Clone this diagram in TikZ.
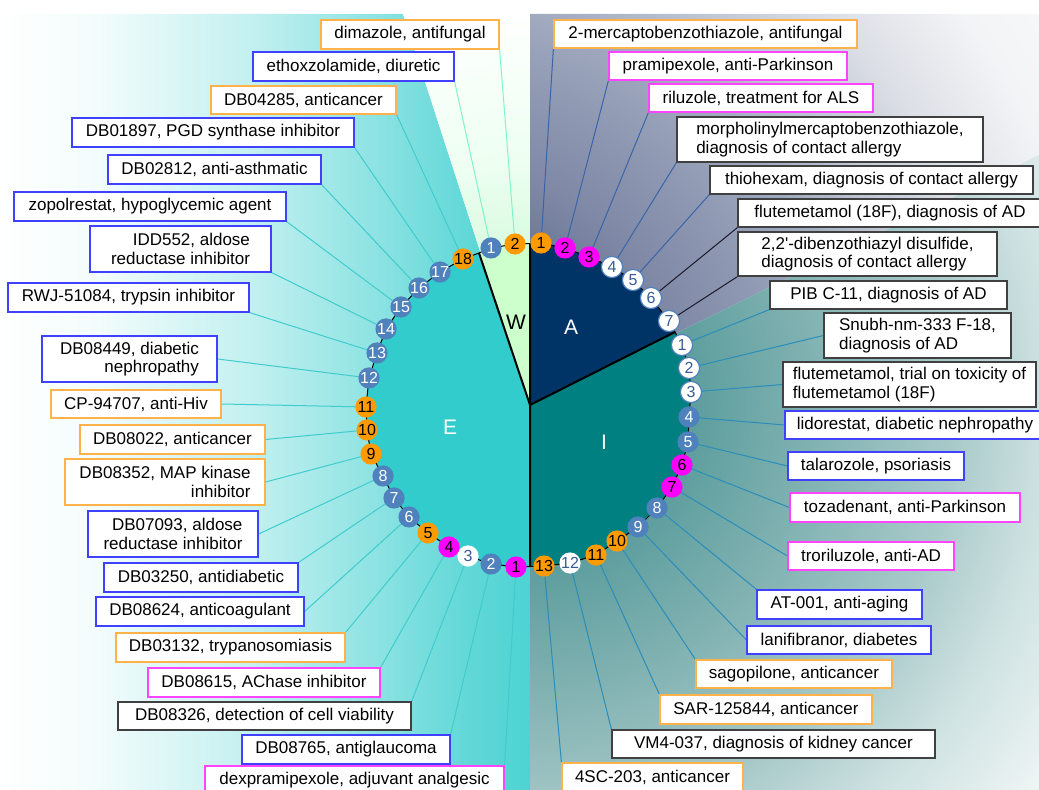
\documentclass[tikz,border=0pt]{standalone}
\usepackage{fontspec}
\setmainfont{Liberation Sans}
\pgfdeclarelayer{back}
\pgfdeclarelayer{mid}
\pgfsetlayers{back,mid,main}
\definecolor{eturq}{HTML}{33CCCC}
\definecolor{esec}{HTML}{33CCCC}
\definecolor{wsec}{HTML}{CCFFCC}
\definecolor{asec}{HTML}{003366}
\definecolor{isec}{HTML}{008080}
\definecolor{cblue}{HTML}{4F81BD}
\definecolor{corange}{HTML}{FF9A00}
\definecolor{cmag}{HTML}{FF00FF}
\definecolor{bor}{HTML}{FFB24A}
\definecolor{bbl}{HTML}{4040FF}
\definecolor{bmg}{HTML}{FF44FF}
\definecolor{bbk}{HTML}{404040}
\definecolor{lE}{HTML}{40CCCC}
\definecolor{lW}{HTML}{80F5C8}
\definecolor{lA}{HTML}{3A64A8}
\definecolor{lAk}{HTML}{1A1A2A}
\definecolor{lI}{HTML}{2A8DBA}
\definecolor{wtxt}{HTML}{3A5C95}
% background shadings
\colorlet{e0}{white}
\colorlet{e1}{eturq!6!white}
\colorlet{e2}{eturq!30!white}
\colorlet{e3}{eturq!57!white}
\colorlet{e4}{eturq!77!white}
\colorlet{e5}{eturq!87!white}
\pgfdeclarehorizontalshading{eshade}{100bp}{color(0bp)=(e0); color(25bp)=(e0); color(34bp)=(e1); color(49bp)=(e2); color(61bp)=(e3); color(69bp)=(e4); color(75bp)=(e5); color(100bp)=(e5)}
\definecolor{a0}{HTML}{4A5880}
\definecolor{a1}{HTML}{5E6A8E}
\definecolor{a2}{HTML}{7F89A6}
\definecolor{a3}{HTML}{8E98B2}
\definecolor{a4}{HTML}{A0A9BE}
\definecolor{a5}{HTML}{C0C6D3}
\definecolor{a6}{HTML}{DCDFE6}
\definecolor{a7}{HTML}{F3F4F6}
\definecolor{a8}{HTML}{F8F8FA}
\pgfdeclareradialshading{ashade}{\pgfpointorigin}{color(0bp)=(a0); color(5bp)=(a1); color(8.67bp)=(a2); color(11.33bp)=(a3); color(13.83bp)=(a4); color(16.33bp)=(a5); color(19bp)=(a6); color(22.33bp)=(a7); color(25bp)=(a8); color(50bp)=(a8)}
\definecolor{i0}{HTML}{3A8888}
\definecolor{i1}{HTML}{5A9C9C}
\definecolor{i2}{HTML}{85B4B4}
\definecolor{i3}{HTML}{A8C9C9}
\definecolor{i4}{HTML}{CFE2E2}
\definecolor{i5}{HTML}{F2F7F7}
\pgfdeclareradialshading{ishade}{\pgfpointorigin}{color(0bp)=(i0); color(5.8bp)=(i1); color(11.5bp)=(i2); color(16.2bp)=(i3); color(20bp)=(i4); color(25bp)=(i5); color(50bp)=(i5)}
\definecolor{w0}{HTML}{C0F5CC}
\definecolor{w1}{HTML}{D8FADF}
\definecolor{w2}{HTML}{EEFFF2}
\pgfdeclareradialshading{wshade}{\pgfpointorigin}{color(0bp)=(w0); color(5.8bp)=(w1); color(9.6bp)=(w2); color(15.4bp)=(white); color(50bp)=(white)}
\newcommand\labbox[8]{%
  \pgfmathsetmacro\lbX{(#2+#4)/2}%
  \pgfmathsetmacro\lbY{(#3+#5)/2}%
  \pgfmathsetmacro\lbW{(#4-#2)*0.5}%
  \pgfmathsetmacro\lbH{(#5-#3)*0.5}%
  \node[lbox,draw=#6,align=#7,minimum width=\lbW pt,minimum height=\lbH pt] (#1) at (\lbX,\lbY) {#8};}
\begin{document}
\begin{tikzpicture}[x=0.5pt,y=-0.5pt,
  circN/.style={circle,minimum size=10.6pt,inner sep=0pt,font=\fontsize{8}{8}\selectfont},
  circB/.style={circN,fill=cblue,text=white},
  circO/.style={circN,fill=corange,text=black},
  circM/.style={circN,fill=cmag,text=black},
  circW/.style={circN,fill=white,draw=cblue,line width=0.6pt,text=wtxt},
  circWn/.style={circN,fill=white,text=wtxt},
  lbox/.style={draw,fill=white,line width=0.6pt,inner xsep=2pt,inner ysep=1pt,font=\fontsize{8.5}{9.3}\selectfont},
  seclbl/.style={font=\fontsize{10.5}{10.5}\selectfont},
  lnE/.style={draw=lE,line width=0.5pt},
  lnW/.style={draw=lW,line width=0.5pt},
  lnA/.style={draw=lA,line width=0.5pt},
  lnAk/.style={draw=lAk,line width=0.5pt},
  lnI/.style={draw=lI,line width=0.5pt}]
\useasboundingbox (0,0) rectangle (1039,790);
\coordinate (C) at (530,405);
\coordinate (PA) at (430,420);
\coordinate (TE) at (403,14);
\coordinate (TW) at (530,14);
\coordinate (TR) at (1039,14);
\coordinate (RA) at (1039,155);
\coordinate (BR) at (1039,790);
\coordinate (BM) at (530,790);
\coordinate (BL) at (0,790);
\coordinate (TL) at (0,14);
\coordinate (EW) at (479,253);
\coordinate (WA) at (530,243.5);
\coordinate (AI) at (675,332);
\coordinate (IE) at (530,566.5);

% circles
\node[circB] (W1) at (491,248) {1};
\node[circO] (W2) at (515,244) {2};
\node[circO] (A1) at (541,243) {1};
\node[circM] (A2) at (565,248) {2};
\node[circM] (A3) at (589,257) {3};
\node[circW] (A4) at (612,267) {4};
\node[circW] (A5) at (633,280) {5};
\node[circW] (A6) at (651,298) {6};
\node[circW] (A7) at (669,321) {7};
\node[circW] (I1) at (682,345) {1};
\node[circW] (I2) at (689,368) {2};
\node[circW] (I3) at (691,392) {3};
\node[circB] (I4) at (689,417) {4};
\node[circB] (I5) at (688,442) {5};
\node[circM] (I6) at (682,465) {6};
\node[circM] (I7) at (672,487) {7};
\node[circB] (I8) at (657,508) {8};
\node[circB] (I9) at (638,527) {9};
\node[circO] (I10) at (617,541) {10};
\node[circO] (I11) at (596,555) {11};
\node[circWn] (I12) at (570,563) {12};
\node[circO] (I13) at (544,566) {13};
\node[circM] (E1) at (516,567) {1};
\node[circB] (E2) at (491,564) {2};
\node[circWn] (E3) at (468,556) {3};
\node[circM] (E4) at (449,547) {4};
\node[circO] (E5) at (428,533) {5};
\node[circB] (E6) at (409,517) {6};
\node[circB] (E7) at (394,498) {7};
\node[circB] (E8) at (383,476) {8};
\node[circO] (E9) at (371,454) {9};
\node[circO] (E10) at (367,430) {10};
\node[circO] (E11) at (366,407) {11};
\node[circB] (E12) at (369,378) {12};
\node[circB] (E13) at (377,353) {13};
\node[circB] (E14) at (386,329) {14};
\node[circB] (E15) at (401,307) {15};
\node[circB] (E16) at (419,288) {16};
\node[circB] (E17) at (440,272) {17};
\node[circO] (E18) at (463,259) {18};

% sector letters
\node[seclbl,text=black] (tW) at (516,322) {W};
\node[seclbl,text=white] (tA) at (571,327) {A};
\node[seclbl,text=white] (tI) at (604,442) {I};
\node[seclbl,text=white] (tE) at (450,427) {E};

% label boxes, left
\labbox{bW2}{321}{20}{499}{49}{bor}{center}{dimazole, antifungal}
\labbox{bW1}{253}{52}{454}{81}{bbl}{center}{ethoxzolamide, diuretic}
\labbox{bE18}{211}{86}{396}{114}{bor}{center}{DB04285, anticancer}
\labbox{bE17}{72}{118}{354}{147}{bbl}{center}{DB01897, PGD synthase inhibitor}
\labbox{bE16}{108}{155}{321}{184}{bbl}{center}{DB02812, anti-asthmatic}
\labbox{bE15}{14}{192}{286}{221}{bbl}{center}{zopolrestat, hypoglycemic agent}
\labbox{bE14}{90}{226}{271}{272}{bbl}{right}{IDD552, aldose\\reductase inhibitor}
\labbox{bE13}{8}{283}{249}{312}{bbl}{center}{RWJ-51084, trypsin inhibitor}
\labbox{bE12}{42}{336}{217}{382}{bbl}{right}{DB08449, diabetic\\nephropathy}
\labbox{bE11}{51}{390}{221}{418}{bor}{center}{CP-94707, anti-Hiv}
\labbox{bE10}{80}{425}{265}{454}{bor}{center}{DB08022, anticancer}
\labbox{bE9}{65}{459}{265}{505}{bor}{right}{DB08352, MAP kinase\\inhibitor}
\labbox{bE8}{88}{511}{258}{557}{bbl}{right}{DB07093, aldose\\reductase inhibitor}
\labbox{bE7}{104}{563}{298}{592}{bbl}{center}{DB03250, antidiabetic}
\labbox{bE6}{96}{597}{304}{626}{bbl}{center}{DB08624, anticoagulant}
\labbox{bE5}{116}{633}{345}{662}{bor}{center}{DB03132, trypanosomiasis}
\labbox{bE4}{148}{668}{380}{697}{bmg}{center}{DB08615, AChase inhibitor}
\labbox{bE3}{118}{702}{411}{730}{bbk}{center}{DB08326, detection of cell viability}
\labbox{bE2}{242}{735}{450}{764}{bbl}{center}{DB08765, antiglaucoma}
\labbox{bE1}{205}{766}{504}{795}{bmg}{center}{dexpramipexole, adjuvant analgesic}
% label boxes, right
\labbox{bA1}{554}{20}{857}{48}{bor}{center}{2-mercaptobenzothiazole, antifungal}
\labbox{bA2}{609}{52}{847}{80}{bmg}{center}{pramipexole, anti-Parkinson}
\labbox{bA3}{649}{84}{873}{112}{bmg}{center}{riluzole, treatment for ALS}
\labbox{bA4}{677}{117}{983}{162}{bbk}{left}{morpholinylmercaptobenzothiazole,\\diagnosis of contact allergy}
\labbox{bA5}{710}{166}{1033}{194}{bbk}{center}{thiohexam, diagnosis of contact allergy}
\labbox{bA6}{738}{199}{1042}{227}{bbk}{center}{flutemetamol (18F), diagnosis of AD}
\labbox{bA7}{738}{232}{997}{276}{bbk}{left}{2,2\textquotesingle-dibenzothiazyl disulfide,\\diagnosis of contact allergy}
\labbox{bI1}{770}{281}{1007}{309}{bbk}{center}{PIB C-11, diagnosis of AD}
\labbox{bI2}{824}{313}{1011}{358}{bbk}{left}{Snubh-nm-333 F-18,\\diagnosis of AD}
\labbox{bI3}{783}{362}{1036}{407}{bbk}{left}{flutemetamol, trial on toxicity of\\flutemetamol (18F)}
\labbox{bI4}{785}{411}{1045}{439}{bbl}{center}{lidorestat, diabetic nephropathy}
\labbox{bI5}{788}{452}{964}{480}{bbl}{center}{talarozole, psoriasis}
\labbox{bI6}{790}{493}{1020}{522}{bmg}{center}{tozadenant, anti-Parkinson}
\labbox{bI7}{788}{542}{954}{570}{bmg}{center}{troriluzole, anti-AD}
\labbox{bI8}{757}{590}{922}{619}{bbl}{center}{AT-001, anti-aging}
\labbox{bI9}{747}{626}{931}{654}{bbl}{center}{lanifibranor, diabetes}
\labbox{bI10}{696}{660}{892}{688}{bor}{center}{sagopilone, anticancer}
\labbox{bI11}{660}{695}{872}{724}{bor}{center}{SAR-125844, anticancer}
\labbox{bI12}{612}{730}{935}{758}{bbk}{center}{VM4-037, diagnosis of kidney cancer}
\labbox{bI13}{562}{763}{743}{791}{bor}{center}{4SC-203, anticancer}

\begin{pgfonlayer}{back}
  \begin{scope}
    \clip (C) -- (TE) -- (TL) -- (BL) -- (BM) -- cycle;
    \shade[shading=eshade] (0,14) rectangle (530,790);
  \end{scope}
  \begin{scope}
    \clip (C) -- (TE) -- (TW) -- cycle;
    \shade[shading=wshade] (C) circle[radius=325pt];
  \end{scope}
  \begin{scope}
    \clip (C) -- (TW) -- (TR) -- (RA) -- cycle;
    \shade[shading=ashade] (PA) circle[radius=375pt];
  \end{scope}
  \begin{scope}
    \clip (C) -- (RA) -- (BR) -- (BM) -- cycle;
    \shade[shading=ishade] (C) circle[radius=325pt];
  \end{scope}
  \fill[wsec] (C) -- (EW) -- (W1.center) -- (W2.center) -- (WA) -- cycle;
  \fill[asec] (C) -- (WA) -- (A1.center) -- (A2.center) -- (A3.center) -- (A4.center) -- (A5.center) -- (A6.center) -- (A7.center) -- (AI) -- cycle;
  \fill[isec] (C) -- (AI) -- (I1.center) -- (I2.center) -- (I3.center) -- (I4.center) -- (I5.center) -- (I6.center) -- (I7.center) -- (I8.center) -- (I9.center) -- (I10.center) -- (I11.center) -- (I12.center) -- (I13.center) -- (IE) -- cycle;
  \fill[esec] (C) -- (IE) -- (E1.center) -- (E2.center) -- (E3.center) -- (E4.center) -- (E5.center) -- (E6.center) -- (E7.center) -- (E8.center) -- (E9.center) -- (E10.center) -- (E11.center) -- (E12.center) -- (E13.center) -- (E14.center) -- (E15.center) -- (E16.center) -- (E17.center) -- (E18.center) -- (EW) -- cycle;
  \draw[line width=0.5pt] (EW) -- (W1.center) -- (W2.center) -- (WA) -- (A1.center) -- (A2.center) -- (A3.center) -- (A4.center) -- (A5.center) -- (A6.center) -- (A7.center) -- (AI) -- (I1.center) -- (I2.center) -- (I3.center) -- (I4.center) -- (I5.center) -- (I6.center) -- (I7.center) -- (I8.center) -- (I9.center) -- (I10.center) -- (I11.center) -- (I12.center) -- (I13.center) -- (IE) -- (E1.center) -- (E2.center) -- (E3.center) -- (E4.center) -- (E5.center) -- (E6.center) -- (E7.center) -- (E8.center) -- (E9.center) -- (E10.center) -- (E11.center) -- (E12.center) -- (E13.center) -- (E14.center) -- (E15.center) -- (E16.center) -- (E17.center) -- (E18.center) -- cycle;
  \draw[line width=1pt] (EW) -- (C) -- (WA) (C) -- (AI) (C) -- (IE);
\end{pgfonlayer}

\begin{pgfonlayer}{mid}
  \draw[lnW] (bW2.south east) -- (W2.center);
  \draw[lnW] (bW1.south east) -- (W1.center);
  \draw[lnE] (bE18.south east) -- (E18.center);
  \draw[lnE] (bE17.south east) -- (E17.center);
  \draw[lnE] (bE16.south east) -- (E16.center);
  \draw[lnE] (bE15.south east) -- (E15.center);
  \draw[lnE] (bE14.south east) -- (E14.center);
  \draw[lnE] (bE13.south east) -- (E13.center);
  \draw[lnE] (bE12.east) -- (E12.center);
  \draw[lnE] (bE11.east) -- (E11.center);
  \draw[lnE] (bE10.east) -- (E10.center);
  \draw[lnE] (bE9.east) -- (E9.center);
  \draw[lnE] (bE8.east) -- (E8.center);
  \draw[lnE] (bE7.north east) -- (E7.center);
  \draw[lnE] (bE6.east) -- (E6.center);
  \draw[lnE] (bE5.north east) -- (E5.center);
  \draw[lnE] (bE4.north east) -- (E4.center);
  \draw[lnE] (bE3.north east) -- (E3.center);
  \draw[lnE] (bE2.north east) -- (E2.center);
  \draw[lnE] (bE1.north east) -- (E1.center);
  \draw[lnA] (bA1.south west) -- (A1.center);
  \draw[lnA] (bA2.south west) -- (A2.center);
  \draw[lnA] (bA3.south west) -- (A3.center);
  \draw[lnA] (bA4.south west) -- (A4.center);
  \draw[lnA] (bA5.south west) -- (A5.center);
  \draw[lnAk] (bA6.south west) -- (A6.center);
  \draw[lnAk] (bA7.south west) -- (A7.center);
  \draw[lnI] (bI1.south west) -- (I1.center);
  \draw[lnI] (bI2.west) -- (I2.center);
  \draw[lnI] (bI3.west) -- (I3.center);
  \draw[lnI] (bI4.west) -- (I4.center);
  \draw[lnI] (bI5.west) -- (I5.center);
  \draw[lnI] (bI6.west) -- (I6.center);
  \draw[lnI] (bI7.west) -- (I7.center);
  \draw[lnI] (bI8.north west) -- (I8.center);
  \draw[lnI] (bI9.west) -- (I9.center);
  \draw[lnI] (bI10.north west) -- (I10.center);
  \draw[lnI] (bI11.north west) -- (I11.center);
  \draw[lnI] (bI12.north west) -- (I12.center);
  \draw[lnI] (bI13.north west) -- (I13.center);
\end{pgfonlayer}
\end{tikzpicture}
\end{document}
